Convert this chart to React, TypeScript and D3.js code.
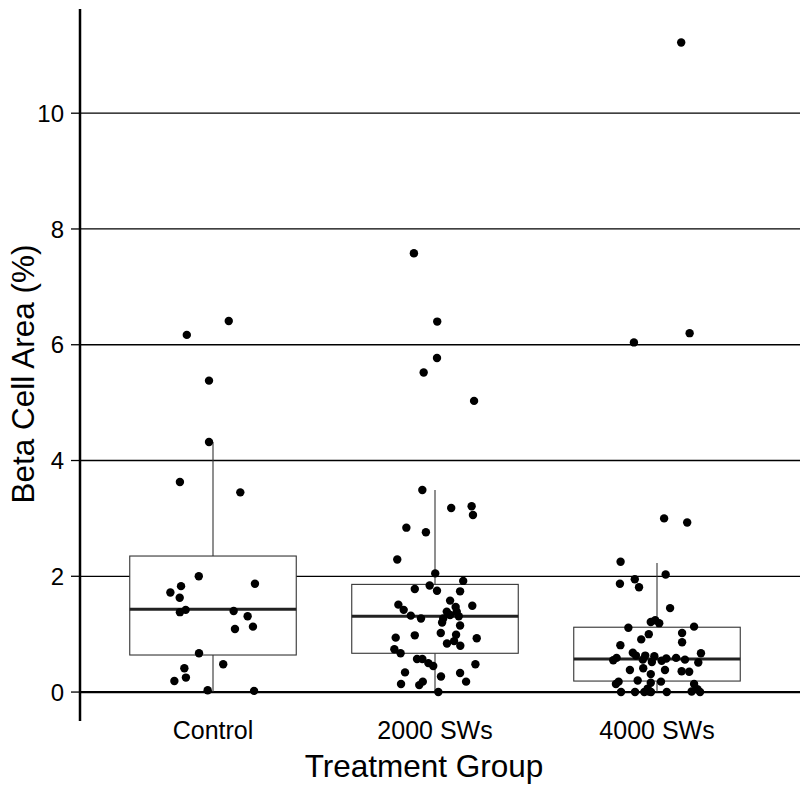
import React from "react";
import * as d3 from "d3";

const categories = ["Control", "2000 SWs", "4000 SWs"];
const yTicks = [0, 2, 4, 6, 8, 10];

// Box statistics
const boxLow = [0.0, 0.0, 0.0];
const boxQ1 = [0.64, 0.67, 0.19];
const boxMedian = [1.43, 1.31, 0.57];
const boxQ3 = [2.35, 1.86, 1.12];
const boxHigh = [4.32, 3.49, 2.23];

// Points: value and horizontal jitter (fraction of category step)
const controlValues = [6.17, 6.41, 5.38, 4.32, 3.63, 3.45, 2.0, 1.83, 1.72, 1.63, 1.87, 1.42, 1.38, 1.4, 1.31, 1.13, 1.09, 0.67, 0.48, 0.41, 0.25, 0.19, 0.03, 0.02];
const controlJitter = [-0.118, 0.071, -0.018, -0.018, -0.149, 0.123, -0.064, -0.144, -0.192, -0.15, 0.189, -0.123, -0.149, 0.093, 0.156, 0.18, 0.099, -0.063, 0.046, -0.129, -0.122, -0.174, -0.024, 0.185];

const sw2000Values = [7.58, 6.4, 5.77, 5.52, 5.03, 3.49, 3.18, 3.21, 3.06, 2.84, 2.76, 2.29, 2.05, 1.92, 1.78, 1.84, 1.75, 1.74, 1.58, 1.51, 1.42, 1.47, 1.49, 1.32, 1.27, 1.39, 1.39, 1.33, 1.27, 1.31, 1.2, 1.15, 0.94, 0.98, 1.02, 0.99, 0.93, 0.84, 0.88, 0.8, 0.74, 0.67, 0.57, 0.57, 0.5, 0.45, 0.48, 0.34, 0.27, 0.33, 0.18, 0.14, 0.12, 0.18, 0.0];
const sw2000Jitter = [-0.095, 0.01, 0.009, -0.051, 0.176, -0.057, 0.073, 0.165, 0.171, -0.129, -0.041, -0.17, 0.001, 0.127, -0.091, -0.024, 0.009, 0.113, 0.068, -0.165, -0.141, 0.093, 0.168, -0.109, -0.063, 0.053, 0.098, 0.068, 0.037, 0.107, 0.032, 0.113, -0.177, -0.091, 0.026, 0.095, 0.188, 0.054, 0.086, 0.114, -0.183, -0.155, -0.081, -0.057, -0.03, -0.008, 0.182, -0.135, 0.027, 0.113, 0.14, -0.153, -0.071, -0.055, 0.015];

const sw4000Values = [11.22, 6.04, 6.2, 3.0, 2.93, 2.25, 1.87, 1.95, 1.81, 2.03, 1.45, 1.11, 1.21, 1.24, 1.19, 1.13, 1.0, 0.91, 1.02, 0.86, 0.81, 0.67, 0.68, 0.63, 0.63, 0.62, 0.58, 0.59, 0.56, 0.55, 0.59, 0.56, 0.52, 0.54, 0.51, 0.38, 0.41, 0.31, 0.38, 0.36, 0.35, 0.14, 0.18, 0.2, 0.16, 0.18, 0.14, 0.0, 0.0, 0.0, 0.01, 0.0, 0.0, 0.01, 0.05, 0.0, 0.06];
const sw4000Jitter = [0.109, -0.104, 0.147, 0.032, 0.136, -0.164, -0.167, -0.1, -0.081, 0.039, 0.059, -0.129, -0.028, -0.008, 0.01, 0.167, -0.037, -0.071, 0.113, 0.113, -0.165, 0.198, -0.109, -0.095, -0.053, -0.012, 0.042, 0.086, 0.126, -0.197, -0.182, -0.064, -0.023, 0.021, 0.186, -0.122, -0.062, -0.028, 0.036, 0.111, 0.145, -0.185, -0.173, -0.087, -0.028, 0.018, 0.167, -0.162, -0.099, -0.057, -0.036, -0.027, 0.044, 0.156, 0.182, 0.194, -0.042];

const groupValues = [controlValues, sw2000Values, sw4000Values];
const groupJitter = [controlJitter, sw2000Jitter, sw4000Jitter];

const W = 800;
const H = 792;
const FONT = "'Liberation Sans', Arial, Helvetica, sans-serif";

export default function App() {
  const axisX = 80;
  const x = d3.scaleBand<string>().domain(categories).range([102, 768]).paddingInner(0.25).paddingOuter(0.125);
  const y = d3.scaleLinear().domain([-0.5, 11.8]).range([721, 9]);
  const step = x.step();
  const bw = x.bandwidth();
  const cx = (c: string) => (x(c) as number) + bw / 2;

  return (
    <svg width={W} height={H} style={{ position: "absolute", left: 0, top: 0, background: "#fff" }} fontFamily={FONT}>
      <rect x={0} y={0} width={W} height={H} fill="#fff" />
      {yTicks.map((t) => (
        <line key={"g" + t} x1={axisX} x2={W} y1={y(t)} y2={y(t)} stroke="#000" strokeWidth={t === 0 ? 2.2 : 1.3} />
      ))}
      {categories.map((c, i) => {
        const left = x(c) as number;
        const mid = cx(c);
        return (
          <g key={"b" + c}>
            <line x1={mid} x2={mid} y1={y(boxQ3[i])} y2={y(boxHigh[i])} stroke="#333" strokeWidth={1.1} />
            <line x1={mid} x2={mid} y1={y(boxQ1[i])} y2={y(boxLow[i])} stroke="#333" strokeWidth={1.1} />
            <rect x={left} y={y(boxQ3[i])} width={bw} height={y(boxQ1[i]) - y(boxQ3[i])} fill="#fff" stroke="#333" strokeWidth={1.1} />
            <line x1={left} x2={left + bw} y1={y(boxMedian[i])} y2={y(boxMedian[i])} stroke="#222" strokeWidth={3} />
          </g>
        );
      })}
      {categories.map((c, i) =>
        groupValues[i].map((v, j) => (
          <circle key={c + j} cx={cx(c) + groupJitter[i][j] * step} cy={y(v)} r={4.2} fill="#000" />
        ))
      )}
      <line x1={axisX} x2={axisX} y1={y(-0.5)} y2={y(11.8)} stroke="#000" strokeWidth={2.5} />
      {yTicks.map((t) => (
        <g key={"t" + t}>
          <line x1={axisX - 9} x2={axisX} y1={y(t)} y2={y(t)} stroke="#000" strokeWidth={1.3} />
          <text x={64} y={y(t)} dy="0.36em" textAnchor="end" fontSize={24} fill="#000">
            {t}
          </text>
        </g>
      ))}
      {categories.map((c) => (
        <text key={"xl" + c} x={cx(c)} y={739} textAnchor="middle" fontSize={25} fill="#000">
          {c}
        </text>
      ))}
      <text x={424} y={777} textAnchor="middle" fontSize={31.5} fill="#000">
        Treatment Group
      </text>
      <text transform={`translate(34, 374) rotate(-90)`} textAnchor="middle" fontSize={31.5} fill="#000">
        Beta Cell Area (%)
      </text>
    </svg>
  );
}
